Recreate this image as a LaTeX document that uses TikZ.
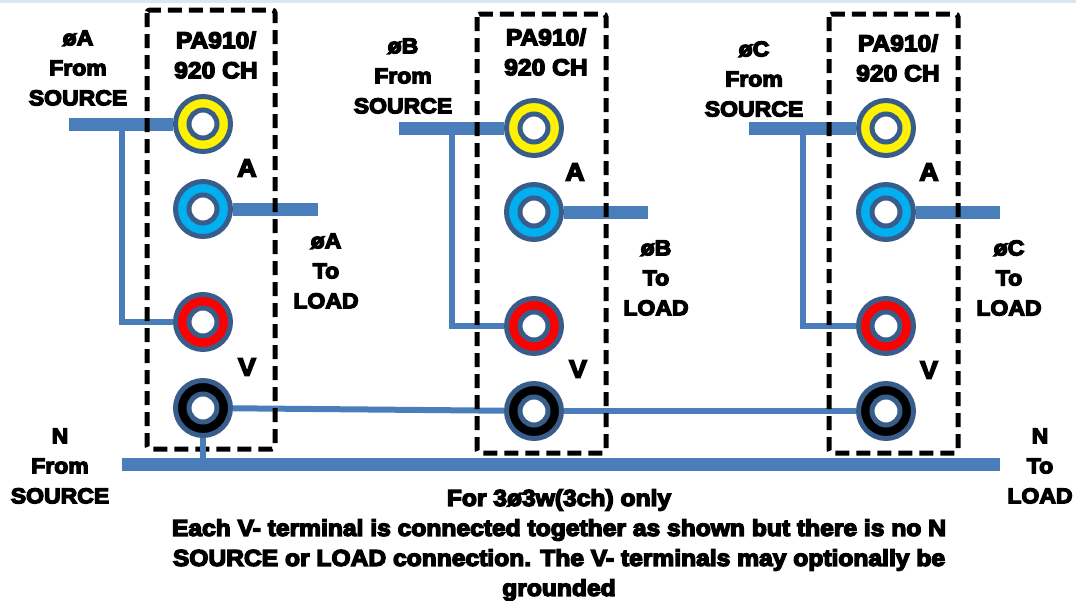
\documentclass[tikz,border=0pt]{standalone}
\usepackage{fontspec}
\setmainfont[BoldFeatures={FakeBold=6,FakeStretch=1.07}]{Liberation Sans}
\definecolor{ringblue}{HTML}{385D8A}
\definecolor{wireblue}{HTML}{4A7EBB}
\definecolor{jackblue}{HTML}{00B0F0}
\definecolor{topband}{HTML}{DCE6F1}
\tikzset{
  jack/.style={circle, draw=ringblue, line width=5pt, minimum size=55pt, inner sep=0pt},
  hole/.style={circle, draw=ringblue, fill=white, line width=5pt, minimum size=28pt, inner sep=0pt},
  mainwire/.style={draw=wireblue, line width=13pt},
  thinwire/.style={draw=wireblue, line width=6pt},
  chbox/.style={draw=black, line width=5pt, dash pattern=on 14pt off 7pt, rounded corners=3pt},
  lbl/.style={font=\fontsize{21.5}{30}\selectfont\bfseries, align=center, inner sep=0pt},
  chlbl/.style={font=\fontsize{23}{30}\selectfont\bfseries, align=center, inner sep=0pt},
  letter/.style={font=\fontsize{25}{30}\selectfont\bfseries, inner sep=0pt},
  notelbl/.style={font=\fontsize{23}{30}\selectfont\bfseries, align=center, inner sep=0pt}
}
\begin{document}
\begin{tikzpicture}[x=1pt, y=-1pt]
\useasboundingbox (0,0) rectangle (1076,600);
\fill[topband] (0,0) rectangle (1076,3);
% channel A
\node[jack, fill=yellow] (yA) at (203,124) {};
\node[hole] (yAh) at (203,124) {};
\node[jack, fill=jackblue] (cA) at (203,209) {};
\node[hole] (cAh) at (203,209) {};
\node[jack, fill=red] (rA) at (203,322) {};
\node[hole] (rAh) at (203,322) {};
\node[jack, fill=black] (kA) at (203,408) {};
\node[hole] (kAh) at (203,408) {};
% channel B
\node[jack, fill=yellow] (yB) at (534,128) {};
\node[hole] (yBh) at (534,128) {};
\node[jack, fill=jackblue] (cB) at (534,212) {};
\node[hole] (cBh) at (534,212) {};
\node[jack, fill=red] (rB) at (534,326) {};
\node[hole] (rBh) at (534,326) {};
\node[jack, fill=black] (kB) at (534,411) {};
\node[hole] (kBh) at (534,411) {};
% channel C
\node[jack, fill=yellow] (yC) at (886,128) {};
\node[hole] (yCh) at (886,128) {};
\node[jack, fill=jackblue] (cC) at (886,212) {};
\node[hole] (cCh) at (886,212) {};
\node[jack, fill=red] (rC) at (886,326) {};
\node[hole] (rCh) at (886,326) {};
\node[jack, fill=black] (kC) at (886,411) {};
\node[hole] (kCh) at (886,411) {};
% free wire ends
\coordinate (srcA) at (69,124);
\coordinate (tapA) at (122,124);
\coordinate (kneeA) at (122,322);
\coordinate (outA) at (318,209);
\coordinate (srcB) at (399,128);
\coordinate (tapB) at (452,128);
\coordinate (kneeB) at (452,326);
\coordinate (outB) at (648,212);
\coordinate (srcC) at (749,128);
\coordinate (tapC) at (803,128);
\coordinate (kneeC) at (803,326);
\coordinate (outC) at (1000,212);
\coordinate (busL) at (122,464);
\coordinate (busR) at (1000,464);
\coordinate (busT) at (203,464);
% wires
\draw[mainwire] (srcA) -- (yA);
\draw[mainwire] (cA) -- (outA);
\draw[thinwire] (tapA) -- (kneeA) -- (rA);
\draw[mainwire] (srcB) -- (yB);
\draw[mainwire] (cB) -- (outB);
\draw[thinwire] (tapB) -- (kneeB) -- (rB);
\draw[mainwire] (srcC) -- (yC);
\draw[mainwire] (cC) -- (outC);
\draw[thinwire] (tapC) -- (kneeC) -- (rC);
\draw[thinwire] (kA) -- (kB);
\draw[thinwire] (kB) -- (kC);
% channel boxes
\draw[chbox] (147,10) rectangle (275,449);
\draw[chbox] (477,14) rectangle (606,453);
\draw[chbox] (829,14) rectangle (958,453);
\draw[thinwire] (kA) -- (busT);
\draw[mainwire] (busL) -- (busR);
% labels
\node[lbl] (fromA) at (78,68) {øA\\From\\SOURCE};
\node[chlbl] (chA) at (216,55) {PA910/\\920 CH};
\node[letter] (lblcA) at (247,168) {A};
\node[letter] (lblvA) at (247,367) {V};
\node[lbl] (toA) at (326,271) {øA\\To\\LOAD};
\node[lbl] (fromB) at (403,76) {øB\\From\\SOURCE};
\node[chlbl] (chB) at (546,52) {PA910/\\920 CH};
\node[letter] (lblcB) at (575,172) {A};
\node[letter] (lblvB) at (578,369) {V};
\node[lbl] (toB) at (656,278) {øB\\To\\LOAD};
\node[lbl] (fromC) at (754,79) {øC\\From\\SOURCE};
\node[chlbl] (chC) at (898,58) {PA910/\\920 CH};
\node[letter] (lblcC) at (929,172) {A};
\node[letter] (lblvC) at (929,370) {V};
\node[lbl] (toC) at (1009,278) {øC\\To\\LOAD};
\node[lbl] (fromN) at (60,466) {N\\From\\SOURCE};
\node[lbl] (toN) at (1040,466) {N\\To\\LOAD};
\node[notelbl] (note) at (559,545) {For 3ø3w(3ch) only\\Each V- terminal is connected together as shown but there is no N\\SOURCE or LOAD connection. The V- terminals may optionally be\\grounded};
\end{tikzpicture}
\end{document}
